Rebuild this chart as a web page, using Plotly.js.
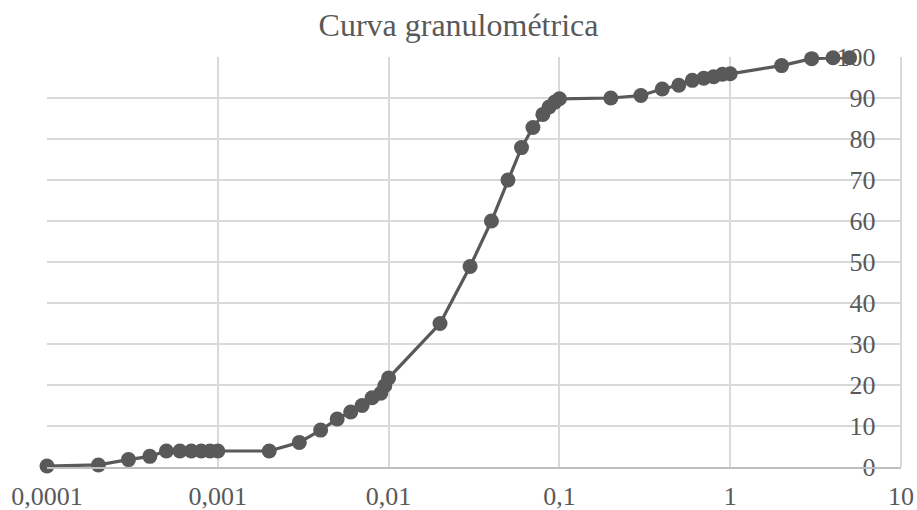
<!DOCTYPE html>
<html>
<head>
<meta charset="utf-8">
<script src="https://cdn.plot.ly/plotly-3.0.1.min.js"></script>
<style>html,body{margin:0;padding:0;background:#fff;}#chart{width:917px;height:510px;}</style>
</head>
<body>
<div id="chart"></div>
<script>
const diameters = [0.0001,0.0002,0.0003,0.0004,0.0005,0.0006,0.0007,0.0008,0.0009,0.001,
  0.002,0.003,0.004,0.005,0.006,0.007,0.008,0.009,0.0095,0.01,
  0.02,0.03,0.04,0.05,0.06,0.07,0.08,0.087,0.094,0.1,
  0.2,0.3,0.4,0.5,0.6,0.7,0.8,0.9,1,2,3,4,5];
const passing = [0.25,0.5,1.8,2.6,3.9,3.9,3.9,3.9,3.9,3.9,
  3.9,6.0,9.0,11.7,13.4,15.0,16.9,18.0,19.8,21.7,
  35.0,48.9,60.0,70.0,77.9,82.8,86.0,87.8,89.0,89.8,
  90.0,90.6,92.2,93.1,94.3,94.8,95.2,95.8,95.9,97.9,99.6,99.8,99.8];
const xTickVals = [0.0001,0.001,0.01,0.1,1,10];
const xTickText = ["0,0001","0,001","0,01","0,1","1","10"];
const yTickVals = [0,10,20,30,40,50,60,70,80,90,100];
const titleText = "Curva granulométrica";

const fontFamily = '"Liberation Serif", "Times New Roman", serif';
const grey = '#595959';

Plotly.newPlot('chart', [{
  x: diameters,
  y: passing,
  type: 'scatter',
  mode: 'lines+markers',
  line: {color: grey, width: 3.2},
  marker: {color: grey, size: 15},
  cliponaxis: false,
  hoverinfo: 'none'
}], {
  width: 917, height: 510,
  margin: {l: 47, r: 16, t: 57, b: 43},
  paper_bgcolor: '#ffffff', plot_bgcolor: '#ffffff',
  showlegend: false,
  font: {family: fontFamily, color: grey, size: 26},
  title: {text: titleText, x: 0.5, xref: 'container', xanchor: 'center',
          y: 0.952, yref: 'container', yanchor: 'middle',
          font: {family: fontFamily, size: 32, color: grey}},
  xaxis: {type: 'log', range: [-4, 1], tickvals: xTickVals, ticktext: xTickText,
          showgrid: true, gridcolor: '#d9d9d9', gridwidth: 2,
          showline: true, linecolor: '#bfbfbf', linewidth: 2,
          ticks: '', ticklabelstandoff: 5, zeroline: false,
          tickfont: {family: fontFamily, size: 26, color: grey}},
  yaxis: {range: [0, 100], tickvals: yTickVals, anchor: 'free', position: 0.97,
          showgrid: true, gridcolor: '#d9d9d9', gridwidth: 2,
          showline: false, zeroline: false, ticks: '', layer: 'below traces',
          tickfont: {family: fontFamily, size: 26, color: grey}},
  shapes: [{type: 'line', xref: 'paper', yref: 'paper', x0: 1, x1: 1, y0: 0, y1: 1,
            line: {color: '#d9d9d9', width: 2}, layer: 'below'}]
}, {staticPlot: true});
</script>
</body>
</html>
